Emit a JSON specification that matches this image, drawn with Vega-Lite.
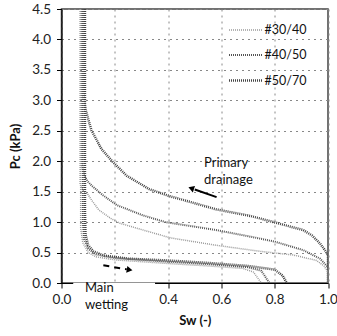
{
  "$schema": "https://vega.github.io/schema/vega-lite/v6.json",
  "width": 266.5,
  "height": 274,
  "autosize": {"type": "none"},
  "padding": {"left": 61.5, "top": 9, "right": 9, "bottom": 53},
  "config": {
    "font": "Lato",
    "view": {"stroke": "#444", "strokeWidth": 1.5},
    "axis": {"labelFont": "Lato", "labelFontSize": 13.5, "labelColor": "#222", "labelOverlap": false, "labelFlush": false, "titleFont": "Lato", "titleFontSize": 13, "titleFontWeight": "bold", "titleColor": "#111", "domainColor": "#000", "domainWidth": 1.2, "tickColor": "#000", "tickSize": 5, "gridColor": "#888", "gridDash": [2, 4], "gridWidth": 1},
    "legend": {"labelFont": "Lato", "labelFontSize": 12.5, "labelFontWeight": "normal", "labelColor": "#111"}
  },
  "datasets": {
    "curves": [
      {"g":"#50/70","b":"D","i":0,"s":0.082,"p":4.5},
      {"g":"#50/70","b":"D","i":1,"s":0.082,"p":3.1},
      {"g":"#50/70","b":"D","i":2,"s":0.09,"p":2.85},
      {"g":"#50/70","b":"D","i":3,"s":0.113,"p":2.5},
      {"g":"#50/70","b":"D","i":4,"s":0.15,"p":2.2},
      {"g":"#50/70","b":"D","i":5,"s":0.19,"p":2.0},
      {"g":"#50/70","b":"D","i":6,"s":0.245,"p":1.76},
      {"g":"#50/70","b":"D","i":7,"s":0.33,"p":1.54},
      {"g":"#50/70","b":"D","i":8,"s":0.41,"p":1.42},
      {"g":"#50/70","b":"D","i":9,"s":0.46,"p":1.36},
      {"g":"#50/70","b":"D","i":10,"s":0.58,"p":1.21},
      {"g":"#50/70","b":"D","i":11,"s":0.71,"p":1.1},
      {"g":"#50/70","b":"D","i":12,"s":0.745,"p":1.06},
      {"g":"#50/70","b":"D","i":13,"s":0.83,"p":0.96},
      {"g":"#50/70","b":"D","i":14,"s":0.907,"p":0.87},
      {"g":"#50/70","b":"D","i":15,"s":0.94,"p":0.78},
      {"g":"#50/70","b":"D","i":16,"s":0.97,"p":0.65},
      {"g":"#50/70","b":"D","i":17,"s":0.99,"p":0.53},
      {"g":"#50/70","b":"D","i":18,"s":1.0,"p":0.46},
      {"g":"#50/70","b":"D","i":19,"s":1.0,"p":0.0},
      {"g":"#40/50","b":"D","i":0,"s":0.076,"p":4.5},
      {"g":"#40/50","b":"D","i":1,"s":0.076,"p":1.95},
      {"g":"#40/50","b":"D","i":2,"s":0.085,"p":1.76},
      {"g":"#40/50","b":"D","i":3,"s":0.1,"p":1.66},
      {"g":"#40/50","b":"D","i":4,"s":0.113,"p":1.6},
      {"g":"#40/50","b":"D","i":5,"s":0.156,"p":1.44},
      {"g":"#40/50","b":"D","i":6,"s":0.207,"p":1.28},
      {"g":"#40/50","b":"D","i":7,"s":0.306,"p":1.11},
      {"g":"#40/50","b":"D","i":8,"s":0.39,"p":1.0},
      {"g":"#40/50","b":"D","i":9,"s":0.58,"p":0.87},
      {"g":"#40/50","b":"D","i":10,"s":0.71,"p":0.76},
      {"g":"#40/50","b":"D","i":11,"s":0.8,"p":0.68},
      {"g":"#40/50","b":"D","i":12,"s":0.907,"p":0.54},
      {"g":"#40/50","b":"D","i":13,"s":0.97,"p":0.4},
      {"g":"#40/50","b":"D","i":14,"s":1.0,"p":0.26},
      {"g":"#40/50","b":"D","i":15,"s":1.0,"p":0.0},
      {"g":"#30/40","b":"D","i":0,"s":0.07,"p":4.5},
      {"g":"#30/40","b":"D","i":1,"s":0.07,"p":1.62},
      {"g":"#30/40","b":"D","i":2,"s":0.08,"p":1.52},
      {"g":"#30/40","b":"D","i":3,"s":0.1,"p":1.45},
      {"g":"#30/40","b":"D","i":4,"s":0.113,"p":1.36},
      {"g":"#30/40","b":"D","i":5,"s":0.14,"p":1.2},
      {"g":"#30/40","b":"D","i":6,"s":0.185,"p":1.06},
      {"g":"#30/40","b":"D","i":7,"s":0.22,"p":0.98},
      {"g":"#30/40","b":"D","i":8,"s":0.306,"p":0.87},
      {"g":"#30/40","b":"D","i":9,"s":0.41,"p":0.74},
      {"g":"#30/40","b":"D","i":10,"s":0.58,"p":0.62},
      {"g":"#30/40","b":"D","i":11,"s":0.745,"p":0.52},
      {"g":"#30/40","b":"D","i":12,"s":0.87,"p":0.46},
      {"g":"#30/40","b":"D","i":13,"s":0.957,"p":0.37},
      {"g":"#30/40","b":"D","i":14,"s":0.985,"p":0.28},
      {"g":"#30/40","b":"D","i":15,"s":1.0,"p":0.18},
      {"g":"#30/40","b":"D","i":16,"s":1.0,"p":0.0},
      {"g":"#50/70","b":"W","i":0,"s":0.088,"p":4.5},
      {"g":"#50/70","b":"W","i":1,"s":0.088,"p":1.2},
      {"g":"#50/70","b":"W","i":2,"s":0.09,"p":0.8},
      {"g":"#50/70","b":"W","i":3,"s":0.1,"p":0.62},
      {"g":"#50/70","b":"W","i":4,"s":0.12,"p":0.52},
      {"g":"#50/70","b":"W","i":5,"s":0.16,"p":0.45},
      {"g":"#50/70","b":"W","i":6,"s":0.25,"p":0.4},
      {"g":"#50/70","b":"W","i":7,"s":0.4,"p":0.37},
      {"g":"#50/70","b":"W","i":8,"s":0.55,"p":0.33},
      {"g":"#50/70","b":"W","i":9,"s":0.7,"p":0.28},
      {"g":"#50/70","b":"W","i":10,"s":0.8,"p":0.22},
      {"g":"#50/70","b":"W","i":11,"s":0.83,"p":0.12},
      {"g":"#50/70","b":"W","i":12,"s":0.845,"p":0.0},
      {"g":"#40/50","b":"W","i":0,"s":0.08,"p":4.5},
      {"g":"#40/50","b":"W","i":1,"s":0.08,"p":1.0},
      {"g":"#40/50","b":"W","i":2,"s":0.085,"p":0.72},
      {"g":"#40/50","b":"W","i":3,"s":0.1,"p":0.56},
      {"g":"#40/50","b":"W","i":4,"s":0.13,"p":0.47},
      {"g":"#40/50","b":"W","i":5,"s":0.2,"p":0.41},
      {"g":"#40/50","b":"W","i":6,"s":0.4,"p":0.35},
      {"g":"#40/50","b":"W","i":7,"s":0.55,"p":0.31},
      {"g":"#40/50","b":"W","i":8,"s":0.7,"p":0.26},
      {"g":"#40/50","b":"W","i":9,"s":0.75,"p":0.2},
      {"g":"#40/50","b":"W","i":10,"s":0.78,"p":0.0},
      {"g":"#30/40","b":"W","i":0,"s":0.072,"p":4.5},
      {"g":"#30/40","b":"W","i":1,"s":0.072,"p":0.9},
      {"g":"#30/40","b":"W","i":2,"s":0.08,"p":0.66},
      {"g":"#30/40","b":"W","i":3,"s":0.1,"p":0.5},
      {"g":"#30/40","b":"W","i":4,"s":0.13,"p":0.43},
      {"g":"#30/40","b":"W","i":5,"s":0.2,"p":0.38},
      {"g":"#30/40","b":"W","i":6,"s":0.4,"p":0.32},
      {"g":"#30/40","b":"W","i":7,"s":0.55,"p":0.28},
      {"g":"#30/40","b":"W","i":8,"s":0.68,"p":0.24},
      {"g":"#30/40","b":"W","i":9,"s":0.72,"p":0.18},
      {"g":"#30/40","b":"W","i":10,"s":0.75,"p":0.0}
    ],
    "mask": [{"s": 0.044, "s2": 0.351, "p": -0.5, "p2": 0.004}],
    "arrowD": [{"s": 0.582, "p": 1.41, "s2": 0.5, "p2": 1.535}],
    "arrowW": [{"s": 0.157, "p": 0.29, "s2": 0.245, "p2": 0.224}],
    "heads": [
      {"k": "drain", "s": 0.49, "p": 1.55, "a": 289},
      {"k": "wet", "s": 0.252, "p": 0.219, "a": 100}
    ],
    "notes": [
      {"t": ["Primary", "drainage"], "s": 0.535, "p": 1.97},
      {"t": ["Main", "wetting"], "s": 0.088, "p": -0.09}
    ]
  },
  "layer": [
    {
      "data": {"name": "curves"},
      "mark": {"type": "line", "clip": true, "strokeCap": "butt"},
      "encoding": {
        "x": {"field": "s", "type": "quantitative", "scale": {"domain": [0, 1]},
          "axis": {"title": "Sw (-)", "values": [0, 0.2, 0.4, 0.6, 0.8, 1.0], "format": ".1f", "labelOverlap": false, "labelFlush": false, "labelExpr": "datum.value == 0.2 ? '' : datum.label", "labelPadding": 4, "titlePadding": 9, "grid": true}},
        "y": {"field": "p", "type": "quantitative", "scale": {"domain": [0, 4.5]},
          "axis": {"title": "Pc (kPa)", "tickCount": 10, "format": ".1f", "labelOverlap": false, "labelFlush": false, "labelPadding": 6, "titlePadding": 9, "grid": true}},
        "color": {"field": "g", "type": "nominal", "scale": {"domain": ["#30/40", "#40/50", "#50/70"], "range": ["#9a9a9a", "#555555", "#444444"]},
          "legend": {"orient": "none", "legendX": 166, "legendY": 3, "title": null, "symbolType": "stroke", "symbolSize": 1156, "rowPadding": -22, "labelOffset": 0}},
        "strokeDash": {"field": "g", "type": "nominal", "scale": {"domain": ["#30/40", "#40/50", "#50/70"], "range": [[1, 1], [1, 1], [1, 1]]},
          "legend": {"orient": "none", "legendX": 166, "legendY": 3, "title": null, "symbolType": "stroke", "symbolSize": 1156, "rowPadding": -22, "labelOffset": 0}},
        "strokeWidth": {"field": "g", "type": "ordinal", "scale": {"domain": ["#30/40", "#40/50", "#50/70"], "range": [1.5, 2.5, 3]},
          "legend": {"orient": "none", "legendX": 166, "legendY": 3, "title": null, "symbolType": "stroke", "symbolSize": 1156, "rowPadding": -22, "labelOffset": 0}},
        "detail": {"field": "b", "type": "nominal"},
        "order": {"field": "i", "type": "quantitative"}
      }
    },
    {
      "data": {"name": "mask"},
      "mark": {"type": "rect", "fill": "white", "clip": false},
      "encoding": {
        "x": {"field": "s", "type": "quantitative"},
        "x2": {"field": "s2"},
        "y": {"field": "p", "type": "quantitative"},
        "y2": {"field": "p2"}
      }
    },
    {
      "data": {"name": "arrowD"},
      "mark": {"type": "rule", "color": "#000", "strokeWidth": 2},
      "encoding": {
        "x": {"field": "s", "type": "quantitative"},
        "x2": {"field": "s2"},
        "y": {"field": "p", "type": "quantitative"},
        "y2": {"field": "p2"}
      }
    },
    {
      "data": {"name": "arrowW"},
      "mark": {"type": "rule", "color": "#000", "strokeWidth": 2, "strokeDash": [6, 5]},
      "encoding": {
        "x": {"field": "s", "type": "quantitative"},
        "x2": {"field": "s2"},
        "y": {"field": "p", "type": "quantitative"},
        "y2": {"field": "p2"}
      }
    },
    {
      "data": {"name": "heads"},
      "mark": {"type": "point", "shape": "triangle", "filled": true, "color": "#000", "size": 45, "opacity": 1},
      "encoding": {
        "x": {"field": "s", "type": "quantitative"},
        "y": {"field": "p", "type": "quantitative"},
        "angle": {"field": "a", "type": "quantitative", "scale": null}
      }
    },
    {
      "data": {"name": "notes"},
      "mark": {"type": "text", "align": "left", "baseline": "middle", "fontSize": 13, "lineHeight": 17, "font": "Lato", "color": "#111", "clip": false},
      "encoding": {
        "x": {"field": "s", "type": "quantitative"},
        "y": {"field": "p", "type": "quantitative"},
        "text": {"field": "t"}
      }
    }
  ]
}
